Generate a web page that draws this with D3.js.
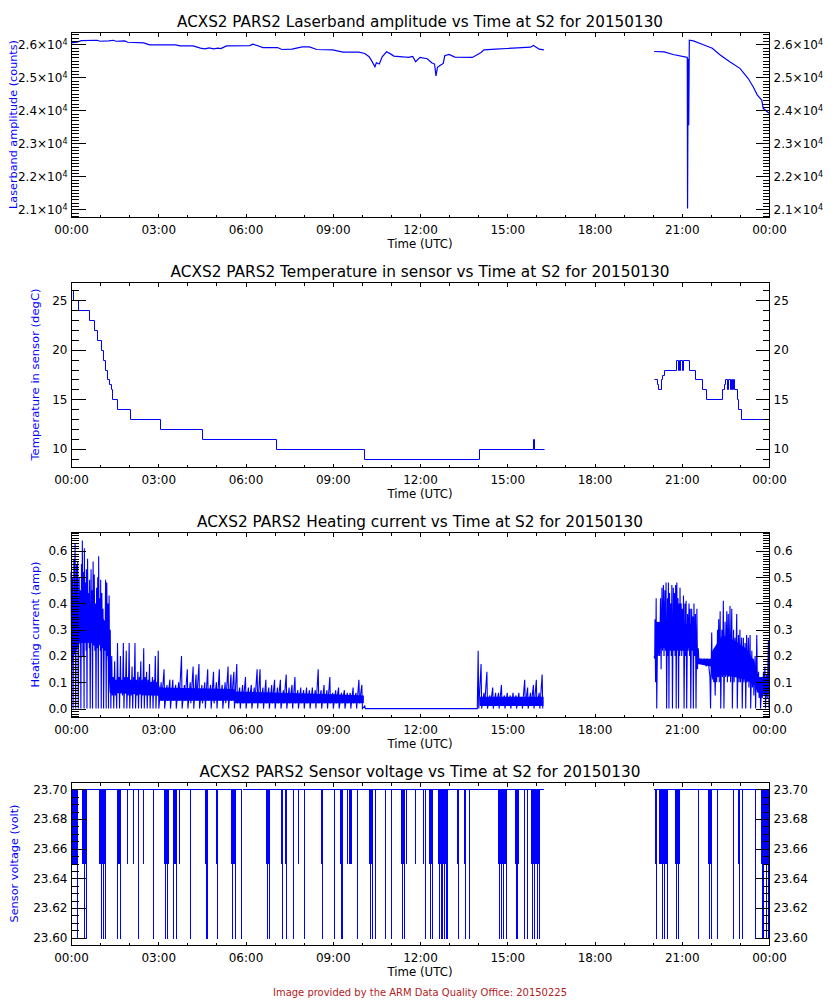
<!DOCTYPE html>
<html><head><meta charset="utf-8">
<script src="https://cdn.jsdelivr.net/npm/d3@7"></script>
<style>
body{margin:0;background:#fff}
svg{display:block}
text{font-family:"DejaVu Sans",sans-serif}
</style>
</head><body>
<svg id="chart" width="840" height="1000"></svg>
<script>
// ---------------- DATA ----------------
const hourTicks = [0, 3, 6, 9, 12, 15, 18, 21, 24];
const hourTickLabels = ["00:00","03:00","06:00","09:00","12:00","15:00","18:00","21:00","00:00"];

const titles = [
  "ACXS2 PARS2 Laserband amplitude vs Time at S2 for 20150130",
  "ACXS2 PARS2 Temperature in sensor vs Time at S2 for 20150130",
  "ACXS2 PARS2 Heating current vs Time at S2 for 20150130",
  "ACXS2 PARS2 Sensor voltage vs Time at S2 for 20150130"
];
const yLabels = ["Laserband amplitude (counts)","Temperature in sensor (degC)","Heating current (amp)","Sensor voltage (volt)"];
const footer = "Image provided by the ARM Data Quality Office: 20150225";

const laserTicks = [21000, 22000, 23000, 24000, 25000, 26000];
const tempTicks = [10, 15, 20, 25];
const heatTicks = [0.0, 0.1, 0.2, 0.3, 0.4, 0.5, 0.6];
const voltTicks = [23.60, 23.62, 23.64, 23.66, 23.68, 23.70];

// Laserband amplitude (counts): [hour, value]
const laserSeg1 = [[0.00,26040],[0.20,26060],[0.35,26110],[0.90,26120],[1.00,26090],[1.30,26100],[1.45,26120],[1.55,26090],[1.85,26100],[1.95,26060],[2.50,26040],[2.70,25980],[3.60,25980],[3.75,25950],[4.20,25950],[4.45,25880],[4.60,25860],[4.75,25890],[4.90,25860],[5.05,25880],[5.15,25870],[5.35,25950],[6.15,25960],[6.25,26000],[6.40,25960],[6.60,25900],[7.10,25900],[7.25,25840],[7.60,25850],[7.95,25920],[8.20,25920],[8.45,25840],[9.00,25830],[9.35,25760],[9.90,25760],[10.10,25720],[10.25,25620],[10.35,25480],[10.45,25320],[10.50,25440],[10.60,25400],[10.70,25620],[10.85,25770],[11.00,25700],[11.10,25640],[11.40,25620],[11.60,25600],[11.75,25630],[11.85,25470],[12.00,25600],[12.25,25560],[12.40,25440],[12.50,25400],[12.55,25040],[12.60,25300],[12.70,25360],[12.80,25420],[12.85,25650],[13.00,25690],[13.20,25610],[13.80,25600],[14.10,25750],[14.20,25830],[14.60,25850],[15.00,25870],[15.50,25900],[15.80,25910],[15.90,25960],[16.10,25850],[16.26,25830]];
const laserSeg2 = [[20.05,25780],[20.40,25770],[20.70,25690],[21.15,25610],[21.19,25600],[21.20,21030],[21.22,25560],[21.24,23550],[21.26,26120],[21.40,26100],[21.70,26000],[22.05,25880],[22.30,25690],[22.65,25470],[23.00,25270],[23.28,24970],[23.45,24720],[23.60,24460],[23.75,24310],[23.80,24060],[24.00,23910]];

// Temperature in sensor (degC): [hour, value], step-after
const tempSeg1 = [[0.00,26],[0.06,25],[0.25,24],[0.63,23],[0.80,22],[0.90,21],[1.02,20],[1.09,19],[1.18,18],[1.25,17],[1.32,16.5],[1.36,16],[1.41,15],[1.59,14],[2.03,13],[3.06,12],[4.49,11],[7.05,10],[10.07,9],[14.04,10],[15.90,11],[15.93,10],[16.27,10]];
const tempSeg2 = [[20.06,17],[20.14,16.5],[20.17,16],[20.28,17],[20.32,17.5],[20.39,18],[20.80,19],[20.87,18],[20.89,19],[20.93,18],[20.95,19],[21.02,18],[21.04,19],[21.26,18],[21.46,17],[21.69,16],[21.83,15],[22.37,16],[22.44,16.5],[22.49,17],[22.56,16],[22.58,17],[22.67,16],[22.69,17],[22.73,16],[22.75,17],[22.80,16],[22.89,15],[22.92,14],[23.04,13],[24.00,13]];

// Heating current (amp): [hour, spike top, spike bottom]
const heatSeg1 = [[0.00,0.52,0.16],[0.05,0.50,0.0],[0.10,0.57,0.25],[0.14,0.63,0.0],[0.19,0.55,0.28],[0.23,0.56,0.0],[0.28,0.50,0.25],[0.32,0.45,0.0],[0.36,0.55,0.28],[0.39,0.64,0.20],[0.43,0.52,0.0],[0.46,0.61,0.25],[0.50,0.48,0.22],[0.53,0.53,0.0],[0.57,0.57,0.25],[0.61,0.44,0.23],[0.64,0.49,0.0],[0.69,0.53,0.25],[0.72,0.45,0.0],[0.76,0.56,0.24],[0.80,0.51,0.22],[0.84,0.40,0.0],[0.88,0.46,0.23],[0.92,0.50,0.0],[0.95,0.58,0.25],[0.99,0.42,0.22],[1.02,0.49,0.0],[1.06,0.44,0.23],[1.10,0.38,0.0],[1.15,0.33,0.22],[1.19,0.49,0.0],[1.23,0.48,0.20],[1.27,0.40,0.0],[1.31,0.43,0.10],[1.35,0.30,0.0],[1.40,0.20,0.05],
 [1.45,0.12,0.0],[1.50,0.18,0.05],[1.55,0.11,0.0],[1.60,0.25,0.06],[1.65,0.12,0.0],[1.70,0.20,0.06],[1.75,0.11,0.05],[1.80,0.25,0.0],[1.85,0.12,0.06],[1.90,0.22,0.0],[1.95,0.12,0.05],[2.00,0.25,0.0],[2.05,0.11,0.05],[2.10,0.16,0.0],[2.15,0.12,0.06],[2.20,0.25,0.0],[2.25,0.11,0.05],[2.30,0.14,0.0],[2.35,0.12,0.06],[2.40,0.18,0.0],[2.45,0.11,0.05],[2.50,0.23,0.0],[2.55,0.12,0.05],[2.60,0.14,0.0],[2.65,0.11,0.05],[2.70,0.17,0.0],[2.75,0.10,0.05],[2.80,0.12,0.0],[2.85,0.11,0.05],[2.90,0.20,0.0],[2.95,0.10,0.05],
 [3.0,0.22,0.0],[3.1,0.10,0.03],[3.2,0.15,0.0],[3.3,0.09,0.03],[3.4,0.11,0.0],[3.5,0.11,0.03],[3.6,0.09,0.0],[3.7,0.10,0.03],[3.8,0.20,0.0],[3.9,0.09,0.03],[4.0,0.15,0.0],[4.1,0.10,0.02],[4.2,0.16,0.0],[4.3,0.13,0.03],[4.4,0.17,0.0],[4.5,0.09,0.02],[4.6,0.10,0.0],[4.7,0.15,0.03],[4.8,0.09,0.0],[4.9,0.14,0.02],[5.0,0.10,0.0],[5.1,0.15,0.03],[5.2,0.09,0.0],[5.3,0.10,0.02],[5.4,0.16,0.0],[5.5,0.13,0.03],[5.6,0.14,0.0],[5.7,0.17,0.02],[5.8,0.08,0.0],[5.9,0.09,0.02],
 [6.0,0.12,0.0],[6.1,0.08,0.02],[6.2,0.09,0.0],[6.3,0.08,0.02],[6.4,0.15,0.0],[6.5,0.15,0.02],[6.6,0.08,0.0],[6.7,0.11,0.02],[6.8,0.08,0.0],[6.9,0.09,0.02],[7.0,0.11,0.0],[7.1,0.08,0.02],[7.2,0.11,0.0],[7.3,0.07,0.02],[7.4,0.13,0.0],[7.5,0.08,0.02],[7.6,0.09,0.0],[7.7,0.12,0.02],[7.8,0.07,0.0],[7.9,0.08,0.02],[8.0,0.07,0.0],[8.1,0.08,0.02],[8.2,0.07,0.0],[8.3,0.08,0.02],[8.4,0.07,0.0],[8.5,0.15,0.02],[8.6,0.07,0.0],[8.7,0.09,0.02],[8.8,0.07,0.0],[8.9,0.12,0.02],
 [9.0,0.06,0.0],[9.1,0.07,0.02],[9.2,0.08,0.0],[9.3,0.06,0.02],[9.4,0.07,0.0],[9.5,0.06,0.02],[9.6,0.06,0.0],[9.7,0.08,0.02],[9.8,0.06,0.0],[9.9,0.11,0.02],[10.0,0.09,0.0],[10.1,0.01,0.0],[13.95,0.0,0.0],
 [14.0,0.22,0.0],[14.1,0.17,0.0],[14.2,0.06,0.01],[14.3,0.14,0.0],[14.4,0.05,0.01],[14.5,0.08,0.0],[14.6,0.06,0.01],[14.7,0.06,0.0],[14.8,0.09,0.01],[14.9,0.05,0.0],[15.0,0.06,0.01],[15.1,0.05,0.0],[15.2,0.06,0.01],[15.3,0.05,0.0],[15.4,0.06,0.01],[15.5,0.04,0.0],[15.6,0.11,0.01],[15.7,0.08,0.0],[15.8,0.06,0.01],[15.9,0.09,0.0],[16.0,0.11,0.01],[16.1,0.06,0.0],[16.2,0.13,0.0]];
const heatSeg2 = [[20.05,0.20,0.19],[20.08,0.34,0.10],[20.12,0.42,0.0],[20.17,0.30,0.20],[20.22,0.25,0.20],[20.27,0.42,0.15],[20.32,0.46,0.22],[20.37,0.47,0.20],[20.42,0.45,0.22],[20.46,0.48,0.0],[20.51,0.42,0.20],[20.54,0.48,0.0],[20.58,0.44,0.22],[20.62,0.40,0.20],[20.66,0.47,0.0],[20.71,0.46,0.22],[20.75,0.44,0.20],[20.79,0.47,0.0],[20.83,0.48,0.22],[20.87,0.42,0.0],[20.91,0.40,0.20],[20.94,0.46,0.22],[20.98,0.40,0.20],[21.02,0.38,0.22],[21.06,0.43,0.0],[21.11,0.40,0.20],[21.15,0.41,0.0],[21.20,0.36,0.22],[21.25,0.40,0.20],[21.29,0.38,0.0],[21.34,0.38,0.22],[21.38,0.35,0.0],[21.42,0.40,0.20],[21.47,0.36,0.0],[21.52,0.38,0.15],[21.57,0.23,0.17],[21.62,0.19,0.17],[21.67,0.19,0.17],[21.72,0.18,0.17],[21.77,0.19,0.17],[21.82,0.18,0.16],[21.87,0.19,0.17],[21.92,0.18,0.15],[21.97,0.12,0.0],[22.03,0.29,0.12],[22.08,0.17,0.10],[22.13,0.14,0.05],[22.18,0.23,0.10],[22.23,0.30,0.12],[22.27,0.34,0.10],[22.32,0.37,0.0],[22.38,0.30,0.12],[22.43,0.41,0.0],[22.49,0.33,0.12],[22.55,0.37,0.10],[22.60,0.36,0.12],[22.66,0.39,0.10],[22.72,0.38,0.0],[22.78,0.30,0.10],[22.83,0.27,0.12],[22.89,0.36,0.0],[22.95,0.28,0.10],[23.00,0.30,0.10],[23.06,0.27,0.0],[23.12,0.27,0.10],[23.18,0.25,0.0],[23.23,0.28,0.10],[23.29,0.27,0.08],[23.35,0.28,0.0],[23.41,0.22,0.08],[23.46,0.19,0.05],[23.52,0.20,0.0],[23.58,0.28,0.08],[23.64,0.14,0.04],[23.69,0.11,0.0],[23.75,0.09,0.04],[23.81,0.14,0.05],[23.86,0.16,0.0],[23.92,0.13,0.04],[23.98,0.26,0.0]];
// dense core of the heating-current trace: [hour, low, high]
const heatCore1 = [[0.02,0.18,0.42],[0.3,0.25,0.40],[0.7,0.25,0.38],[1.0,0.24,0.36],[1.25,0.22,0.32],[1.33,0.06,0.11],[3.0,0.05,0.10],[3.05,0.03,0.08],[5.6,0.03,0.075],[5.65,0.02,0.065],[9.0,0.02,0.055],[10.07,0.02,0.05]];
const heatCore2 = [[14.05,0.01,0.045],[16.25,0.01,0.045]];
const heatCore3 = [[20.1,0.23,0.33],[21.5,0.23,0.32],[21.55,0.17,0.19],[22.0,0.16,0.19],[22.05,0.11,0.22],[22.4,0.13,0.28],[22.8,0.12,0.26],[23.2,0.11,0.23],[23.5,0.09,0.18],[23.6,0.06,0.12],[24.0,0.06,0.12]];

// Sensor voltage (volt)
const voltLevels = [23.70, 23.65, 23.60];          // base, band floor, dip floor
const voltSegments = [[0.00,5.86],[5.92,16.26],[20.05,24.00]];
const voltBands = [[0.00,0.24],[0.38,0.52],[0.96,1.17],[1.58,1.72],[1.93,1.96],[2.13,2.16],[2.46,2.50],[3.20,3.30],[3.34,3.37],[3.51,3.64],[3.71,3.74],[4.61,4.68],[4.99,5.05],[5.50,5.64],[6.70,6.81],[7.22,7.29],[7.36,7.43],[7.81,7.84],[8.61,8.65],[9.25,9.32],[9.49,9.52],[9.56,9.66],[10.25,10.35],[11.35,11.45],[11.52,11.55],[11.83,11.86],[12.12,12.16],[12.31,12.45],[12.62,12.93],[13.27,13.30],[13.51,13.54],[13.69,13.72],[14.68,14.99],[15.27,15.40],[15.58,15.61],[15.68,15.71],[15.82,16.09],[20.08,20.15],[20.22,20.49],[20.77,20.94],[21.56,21.59],[21.90,22.01],[22.21,22.24],[22.76,22.79],[22.93,22.96],[23.07,23.10],[23.52,23.55],[23.73,23.97]];
const voltDips = [0.21,0.45,0.52,1.03,1.10,1.17,1.58,1.68,2.30,2.82,3.23,3.30,3.51,3.61,4.09,4.64,4.68,5.02,5.54,5.64,5.85,6.74,6.81,7.26,7.39,7.63,8.01,8.63,9.04,9.28,9.32,9.83,10.28,10.35,10.45,10.80,11.00,11.38,11.45,12.17,12.34,12.41,12.65,12.72,12.76,12.83,12.89,12.93,13.31,13.55,13.69,14.72,14.79,14.85,14.96,15.30,15.34,15.58,15.68,15.85,15.92,16.02,16.09,20.12,20.32,20.39,20.49,20.80,20.87,21.56,21.94,22.01,22.21,22.76,22.97,23.07,23.52,23.76,23.79,23.90,23.97];

// ---------------- LAYOUT ----------------
const svg = d3.select("#chart");
const X0 = 71, X1 = 769;
const BLUE = "#0000ff";
const x = d3.scaleLinear().domain([0, 24]).range([X0, X1]);
const px = v => Math.round(v) + 0.5;   // snap to pixel centre for 1px strokes

const panels = [
  {top:32,  h:185, domain:[20770,26370], ticks:laserTicks, minor:100, fmt:null, titleLen:486, yLabLen:169, yLabX:17},
  {top:282, h:185, domain:[8.15,26.85],  ticks:tempTicks,  minor:1,   fmt:d3.format("d"), titleLen:499, yLabLen:172, yLabX:39},
  {top:532, h:185, domain:[-0.032,0.672],ticks:heatTicks,  minor:0.01, fmt:d3.format(".1f"), titleLen:446, yLabLen:126, yLabX:39},
  {top:782, h:163, domain:[23.595,23.705],ticks:voltTicks, minor:0.005, fmt:d3.format(".2f"), titleLen:441, yLabLen:118, yLabX:18}
];

function minorTicks(domain, step) {
  const lo = Math.ceil(domain[0] / step - 1e-9), hi = Math.floor(domain[1] / step + 1e-9);
  const out = [];
  for (let k = lo; k <= hi; k++) out.push(+(k * step).toFixed(6));
  return out;
}

function styleAxis(sel) {
  sel.select(".domain").remove();
  sel.attr("font-family", "DejaVu Sans").attr("font-size", 12);
  sel.selectAll("line").attr("stroke", "#000").attr("shape-rendering", "crispEdges");
  sel.selectAll("text").attr("fill", "#000");
}

panels.forEach((p, i) => {
  const y = d3.scaleLinear().domain(p.domain).range([p.top + p.h, p.top]);
  const g = svg.append("g");
  const data = g.append("g");

  if (i === 0) {
    const line = d3.line().x(d => x(d[0])).y(d => y(d[1]));
    [laserSeg1, laserSeg2].forEach(s => data.append("path").attr("d", line(s))
      .style("fill", "none").style("stroke", BLUE).style("stroke-width", 1.2));
  } else if (i === 1) {
    const line = d3.line().x(d => px(x(d[0]))).y(d => px(y(d[1]))).curve(d3.curveStepAfter);
    [tempSeg1, tempSeg2].forEach(s => data.append("path").attr("d", line(s))
      .style("fill", "none").style("stroke", BLUE).style("stroke-width", 1));
  } else if (i === 2) {
    const area = d3.area().x(d => x(d[0])).y0(d => y(d[1])).y1(d => y(d[2]));
    [heatCore1, heatCore2, heatCore3].forEach(s => data.append("path").attr("d", area(s)).style("fill", BLUE));
    const line = d3.line().x(d => x(d[0])).y(d => y(d[1]));
    [heatSeg1, heatSeg2].forEach(s => {
      const pts = [];
      s.forEach(d => { pts.push([d[0], d[1]]); pts.push([d[0] + 0.02, d[2]]); });
      data.append("path").attr("d", line(pts)).style("fill", "none")
        .style("stroke", BLUE).style("stroke-width", 1.1);
    });
  } else {
    const yTop = Math.round(y(voltLevels[0]));
    data.selectAll(null).data(voltSegments).join("rect")
      .attr("x", d => Math.round(x(d[0]))).attr("width", d => Math.round(x(d[1]) - x(d[0])))
      .attr("y", yTop).attr("height", 1)
      .style("fill", BLUE);
    data.selectAll(null).data(voltBands).join("rect")
      .attr("x", d => Math.round(x(d[0]))).attr("width", d => Math.max(1, Math.round(x(d[1]) - x(d[0]))))
      .attr("y", yTop).attr("height", Math.round(y(voltLevels[1])) - yTop)
      .style("fill", BLUE);
    data.selectAll(null).data(voltDips).join("rect")
      .attr("x", d => Math.round(x(d))).attr("width", 1)
      .attr("y", yTop).attr("height", Math.round(y(voltLevels[2])) - yTop + 1)
      .style("fill", BLUE);
  }

  // frame
  g.append("rect").attr("x", X0 + 0.5).attr("y", p.top + 0.5)
    .attr("width", X1 - X0).attr("height", p.h)
    .attr("fill", "none").attr("stroke", "#000").attr("shape-rendering", "crispEdges");

  const minors = minorTicks(p.domain, p.minor);
  const left = g.append("g").attr("transform", `translate(${X0 + 0.5},0)`)
    .call(d3.axisLeft(y).tickValues(p.ticks).tickSize(-14).tickPadding(4)
      .tickFormat(p.fmt ? p.fmt : d => ""));
  styleAxis(left);
  g.append("g").attr("transform", `translate(${X0 + 0.5},0)`)
    .call(d3.axisLeft(y).tickValues(minors).tickSize(-7).tickFormat("")).call(styleAxis);
  const right = g.append("g").attr("transform", `translate(${X1 + 0.5},0)`)
    .call(d3.axisRight(y).tickValues(p.ticks).tickSize(-14).tickPadding(4)
      .tickFormat(p.fmt ? p.fmt : d => ""));
  styleAxis(right);
  g.append("g").attr("transform", `translate(${X1 + 0.5},0)`)
    .call(d3.axisRight(y).tickValues(minors).tickSize(-7).tickFormat("")).call(styleAxis);

  if (!p.fmt) {
    [left, right].forEach(ax => ax.selectAll(".tick text").each(function(d) {
      const t = d3.select(this);
      t.text(null);
      t.append("tspan").text((d / 10000).toFixed(1) + "\u00d710");
      t.append("tspan").attr("dy", "-0.45em").attr("font-size", 8).text("4");
    }));
  }

  const bottom = g.append("g").attr("transform", `translate(0,${p.top + p.h + 0.5})`)
    .call(d3.axisBottom(x).tickValues(hourTicks).tickSize(-4).tickPadding(8)
      .tickFormat((d, k) => hourTickLabels[k]));
  styleAxis(bottom);
  g.append("g").attr("transform", `translate(0,${p.top + p.h + 0.5})`)
    .call(d3.axisBottom(x).tickValues(d3.range(0, 25, 1)).tickSize(-3).tickFormat("")).call(styleAxis);
  g.append("g").attr("transform", `translate(0,${p.top + 0.5})`)
    .call(d3.axisTop(x).tickValues(hourTicks).tickSize(-4).tickFormat("")).call(styleAxis);
  g.append("g").attr("transform", `translate(0,${p.top + 0.5})`)
    .call(d3.axisTop(x).tickValues(d3.range(0, 25, 1)).tickSize(-3).tickFormat("")).call(styleAxis);

  g.append("text").attr("x", 420).attr("y", p.top - 5).attr("text-anchor", "middle")
    .attr("font-size", 15).attr("textLength", p.titleLen).attr("lengthAdjust", "spacingAndGlyphs")
    .text(titles[i]);
  g.append("text").attr("x", 420).attr("y", p.top + p.h + 31).attr("text-anchor", "middle")
    .attr("font-size", 12).attr("textLength", 65).attr("lengthAdjust", "spacingAndGlyphs")
    .text("Time (UTC)");
  g.append("text").attr("transform", `translate(${p.yLabX},${p.top + p.h / 2}) rotate(-90)`)
    .attr("text-anchor", "middle").attr("font-size", 10.5).attr("fill", BLUE)
    .attr("textLength", p.yLabLen).attr("lengthAdjust", "spacingAndGlyphs")
    .text(yLabels[i]);
});

svg.append("text").attr("x", 420).attr("y", 996).attr("text-anchor", "middle")
  .attr("font-size", 10).attr("fill", "#b22222").attr("textLength", 294)
  .attr("lengthAdjust", "spacingAndGlyphs").text(footer);
</script>
</body></html>
